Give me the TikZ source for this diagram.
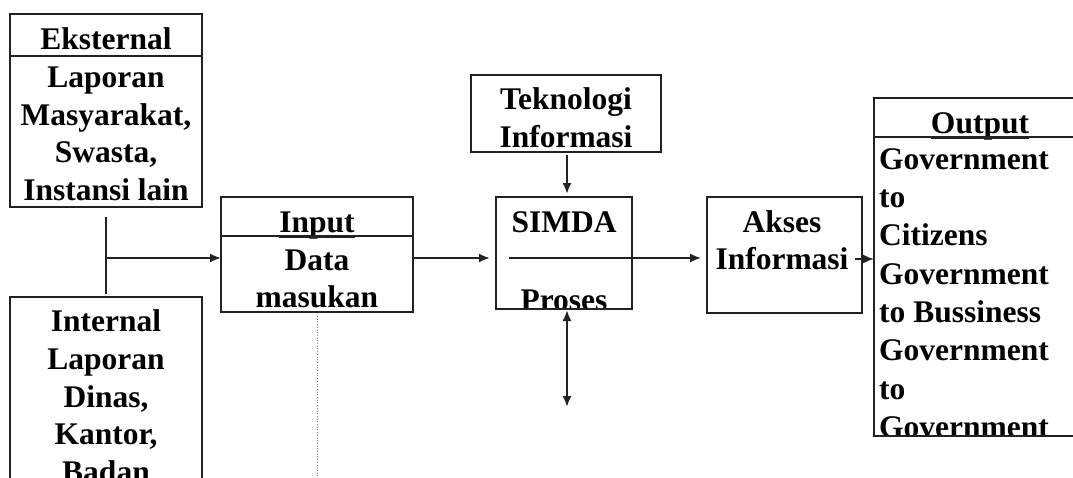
\documentclass[tikz,border=0pt]{standalone}
\usepackage{fontspec}
\setmainfont{Liberation Serif}
\usetikzlibrary{arrows.meta,calc}
\definecolor{lc}{HTML}{222222}
\begin{document}
\begin{tikzpicture}[x=1pt,y=-1pt,
  box/.style={draw=lc, line width=2.2pt, inner sep=0pt, outer sep=0pt},
  divider/.style={draw=lc, line width=2.2pt},
  txt/.style={font=\bfseries\fontsize{31.5}{37}\selectfont, inner sep=0pt, anchor=base, text=black},
  txl/.style={txt, anchor=base west},
  tip/.tip={Latex[length=11pt,width=9pt]},
  arr/.style={draw=lc, line width=2pt, -tip},
  arrboth/.style={draw=lc, line width=2pt, tip-tip},
  plain/.style={draw=lc, line width=2pt},
]
\useasboundingbox (0,0) rectangle (1073,477);
\clip (0,0) rectangle (1073,477);

% boxes
\node[box, minimum width=192pt, minimum height=193pt] (ext) at (106,110.5) {};
\draw[divider] (10,56) -- (202,56);
\node[box, minimum width=192pt, minimum height=200pt] (int) at (106,397) {};
\node[box, minimum width=192pt, minimum height=115pt] (inp) at (317,254.5) {};
\draw[divider] (221,236) -- (413,236);
\node[box, minimum width=190pt, minimum height=77pt] (tek) at (566,113.5) {};
\node[box, minimum width=136pt, minimum height=112pt] (sim) at (564,253) {};
\node[box, minimum width=155pt, minimum height=116pt] (aks) at (784.5,255) {};
\node[box, minimum width=216pt, minimum height=338pt] (out) at (982,267) {};
\draw[divider] (874,137) -- (1090,137);

% texts: Eksternal
\node[txt] (e0) at (106,49) {Eksternal};
\node[txt] (e1) at (106,87) {Laporan};
\node[txt] (e2) at (106,125) {Masyarakat,};
\node[txt] (e3) at (106,162) {Swasta,};
\node[txt] (e4) at (106,200) {Instansi lain};

% Internal
\node[txt] (i0) at (106,331) {Internal};
\node[txt] (i1) at (106,369) {Laporan};
\node[txt] (i2) at (106,407) {Dinas,};
\node[txt] (i3) at (106,444) {Kantor,};
\node[txt] (i4) at (106,482) {Badan};

% Input
\node[txt] (n0) at (317,232) {Input};
\draw[divider, line width=3.2pt] ($(n0.base west)+(0,4.5)$) -- ($(n0.base east)+(0,4.5)$);
\node[txt] (n1) at (317,270) {Data};
\node[txt] (n2) at (317,307) {masukan};

% Teknologi
\node[txt] (t0) at (566,109) {Teknologi};
\node[txt] (t1) at (566,147) {Informasi};

% SIMDA
\node[txt] (s0) at (564,232) {SIMDA};
\begin{scope}
  \clip (497,198) rectangle (631,307);
  \node[txt] (s1) at (564,310) {Proses};
\end{scope}

% Akses
\node[txt] (a0) at (782,232) {Akses};
\node[txt] (a1) at (782,269) {Informasi};

% Output
\node[txt] (o0) at (980,133) {Output};
\draw[divider, line width=3.2pt] ($(o0.base west)+(0,4.5)$) -- ($(o0.base east)+(0,4.5)$);
\begin{scope}
  \clip (875,138) rectangle (1073,434);
  \node[txl] (o1) at (879,169) {Government};
  \node[txl] (o2) at (879,207) {to};
  \node[txl] (o3) at (879,245) {Citizens};
  \node[txl] (o4) at (879,284) {Government};
  \node[txl] (o5) at (879,322) {to Bussiness};
  \node[txl] (o6) at (879,360) {Government};
  \node[txl] (o7) at (879,399) {to};
  \node[txl] (o8) at (879,437) {Government};
\end{scope}

% connectors
\coordinate (j1) at (106,217);
\coordinate (j2) at (106,294);
\coordinate (jm) at (106,258);
\draw[plain] (j1) -- (j2);
\draw[arr] (jm) -- (jm -| inp.west);
\draw[arr, shorten >=6pt] (inp.east |- jm) -- (sim.west |- jm);
\coordinate (sl) at (509,258);
\draw[arr, line width=1.7pt, shorten >=6pt] (sl) -- (sl -| aks.west);
\coordinate (tx) at (567,0);
\draw[arr, shorten <=3pt, shorten >=3pt] (tx |- tek.south) -- (tx |- sim.north);
\coordinate (bot) at (567,407);
\draw[arrboth, shorten <=1pt] (bot |- sim.south) -- (bot);
\coordinate (ao) at (855,259);
\draw[arr, line width=1.7pt] (ao) -- (ao -| out.west);
\coordinate (dt) at (317,480);
\draw[gray, dotted, line width=0.7pt, shorten <=4pt] (inp.south -| dt) -- (dt);
\end{tikzpicture}
\end{document}
